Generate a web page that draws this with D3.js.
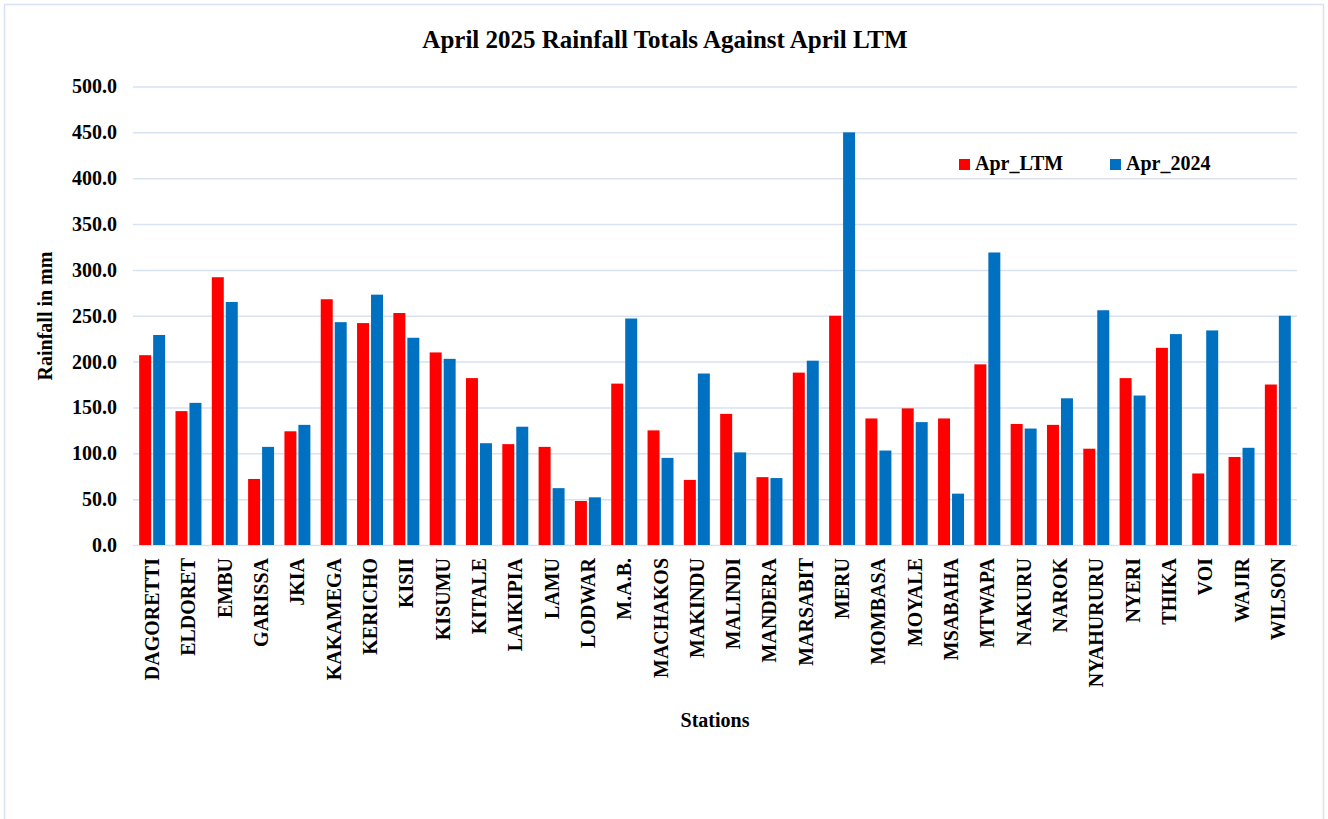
<!DOCTYPE html>
<html>
<head>
<meta charset="utf-8">
<script src="https://cdn.jsdelivr.net/npm/d3@7"></script>
<style>
  body { margin: 0; background: #fff; }
  svg { display: block; font-family: "Liberation Serif", "Times New Roman", serif; font-weight: bold; }
</style>
</head>
<body>
<svg id="chart" width="1328" height="819"></svg>
<script>
// Stations along the x axis
const stations = ['DAGORETTI', 'ELDORET', 'EMBU', 'GARISSA', 'JKIA', 'KAKAMEGA', 'KERICHO', 'KISII',
  'KISUMU', 'KITALE', 'LAIKIPIA', 'LAMU', 'LODWAR', 'M.A.B.', 'MACHAKOS', 'MAKINDU', 'MALINDI',
  'MANDERA', 'MARSABIT', 'MERU', 'MOMBASA', 'MOYALE', 'MSABAHA', 'MTWAPA', 'NAKURU', 'NAROK',
  'NYAHURURU', 'NYERI', 'THIKA', 'VOI', 'WAJIR', 'WILSON'];

// Rainfall (mm)
const aprLTM = [207, 146, 292, 72, 124, 268, 242, 253, 210, 182, 110, 107, 48, 176, 125, 71, 143,
  74, 188, 250, 138, 149, 138, 197, 132, 131, 105, 182, 215, 78, 96, 175];
const apr2024 = [229, 155, 265, 107, 131, 243, 273, 226, 203, 111, 129, 62, 52, 247, 95, 187, 101,
  73, 201, 450, 103, 134, 56, 319, 127, 160, 256, 163, 230, 234, 106, 250];

const seriesNames = ['Apr_LTM', 'Apr_2024'];
const seriesColors = ['#ff0000', '#0070c0'];
const yTicks = [0, 50, 100, 150, 200, 250, 300, 350, 400, 450, 500];

const gridColor = '#d9e2f3';
const svg = d3.select('#chart');

// outer frame
svg.append('rect')
  .attr('x', 4.5).attr('y', 4.5)
  .attr('width', 1319).attr('height', 830)
  .attr('fill', 'none')
  .attr('stroke', gridColor)
  .attr('stroke-width', 1.5);

const plot = { left: 133, right: 1297, top: 86.5, bottom: 545 };

const x0 = d3.scaleBand()
  .domain(stations)
  .range([plot.left + 1, plot.right - 1])
  .paddingInner(0.285)
  .paddingOuter(0.1425);

const x1 = d3.scaleBand()
  .domain(seriesNames)
  .range([0, x0.bandwidth()])
  .paddingInner(0.143);

const y = d3.scaleLinear()
  .domain([0, 500])
  .range([plot.bottom, plot.top]);

// gridlines + tick labels
const yAxis = d3.axisLeft(y)
  .tickValues(yTicks)
  .tickSize(-(plot.right - plot.left))
  .tickPadding(16)
  .tickFormat(d3.format('.1f'));

const yG = svg.append('g')
  .attr('transform', `translate(${plot.left},0)`)
  .call(yAxis);

yG.select('.domain').remove();
yG.selectAll('.tick line')
  .attr('stroke', gridColor)
  .attr('stroke-width', 1.5);
yG.selectAll('.tick text')
  .attr('fill', '#000')
  .style('font-size', '20px')
  .style('font-family', '"Liberation Serif", serif')
  .style('font-weight', 'bold');

// bars
const rows = stations.map((s, i) => ({ station: s, values: [aprLTM[i], apr2024[i]] }));

const groups = svg.append('g')
  .selectAll('g')
  .data(rows)
  .join('g')
  .attr('transform', d => `translate(${x0(d.station)},0)`);

groups.selectAll('rect')
  .data(d => d.values.map((v, k) => ({ key: seriesNames[k], value: v, color: seriesColors[k] })))
  .join('rect')
  .attr('x', d => x1(d.key))
  .attr('y', d => y(d.value))
  .attr('width', x1.bandwidth())
  .attr('height', d => y(0) - y(d.value))
  .attr('fill', d => d.color);

// category labels, rotated
const xAxis = d3.axisBottom(x0).tickSize(0).tickPadding(0);
const xG = svg.append('g')
  .attr('transform', `translate(0,${plot.bottom})`)
  .call(xAxis);

xG.select('.domain').remove();
xG.selectAll('.tick text')
  .attr('fill', '#000')
  .attr('transform', 'rotate(-90)')
  .attr('x', -13)
  .attr('y', 0)
  .attr('dy', '0.35em')
  .attr('text-anchor', 'end')
  .style('font-size', '20px')
  .style('font-family', '"Liberation Serif", serif')
  .style('font-weight', 'bold');

// title
svg.append('text')
  .attr('x', 665)
  .attr('y', 48)
  .attr('text-anchor', 'middle')
  .style('font-size', '25px')
  .text('April 2025 Rainfall Totals Against April LTM');

// axis titles
svg.append('text')
  .attr('transform', 'translate(52,316) rotate(-90)')
  .attr('text-anchor', 'middle')
  .style('font-size', '20px')
  .text('Rainfall in mm');

svg.append('text')
  .attr('x', 715)
  .attr('y', 727)
  .attr('text-anchor', 'middle')
  .style('font-size', '20px')
  .text('Stations');

// legend
const legendX = [959, 1110];
const legend = svg.append('g')
  .selectAll('g')
  .data(seriesNames)
  .join('g')
  .attr('transform', (d, i) => `translate(${legendX[i]},159)`);

legend.append('rect')
  .attr('width', 11).attr('height', 11)
  .attr('fill', (d, i) => seriesColors[i]);

legend.append('text')
  .attr('x', 16)
  .attr('y', 11)
  .style('font-size', '20px')
  .text(d => d);
</script>
</body>
</html>
